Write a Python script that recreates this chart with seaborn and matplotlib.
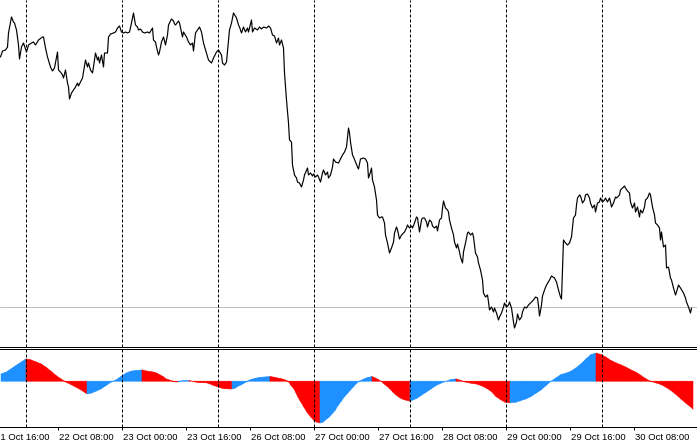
import numpy as np
import matplotlib
matplotlib.use("Agg")
import matplotlib.pyplot as plt
import matplotlib.transforms as mtransforms
import seaborn as sns

# ---------------- data (M15 bars, bar index from left edge) ----------------
price_bar = [0, 2, 5, 7, 8, 11, 13, 14, 16, 18, 19, 21, 23, 26, 28, 31, 33, 35, 38, 42, 43, 45, 47, 50, 52, 54, 56, 57, 58, 60,
             62, 63, 65, 67, 68, 69, 71, 73, 75, 77, 78, 80, 82, 83, 85, 87, 88, 90, 92, 93, 95, 97, 98, 99, 101, 103, 104, 107, 108, 110,
             113, 115, 117, 119, 121, 123, 125, 127, 129, 131, 133, 135, 137, 138, 140, 142, 144, 147, 149, 152, 153, 155, 156, 158, 159, 161, 163, 165, 167, 168,
             171, 173, 174, 175, 178, 179, 182, 183, 186, 188, 190, 192, 193, 195, 197, 199, 201, 203, 206, 208, 211, 213, 216, 218, 221, 222, 224, 226, 228, 229,
             231, 233, 236, 238, 239, 241, 243, 245, 247, 248, 251, 252, 254, 257, 259, 261, 263, 266, 268, 270, 272, 274, 276, 278, 279, 281, 283, 284, 286, 288,
             289, 291, 292, 294, 296, 297, 299, 301, 303, 304, 307, 308, 310, 312, 313, 315, 317, 318, 320, 322, 323, 325, 327, 328, 330, 332, 333, 335, 338, 340,
             342, 344, 346, 348, 349, 350, 352, 353, 355, 357, 358, 360, 363, 365, 367, 368, 370, 371, 372, 374, 376, 377, 379, 381, 382, 384, 385, 387, 388, 389,
             391, 393, 394, 396, 397, 399, 401, 403, 404, 406, 407, 409, 411, 412, 414, 416, 417, 419, 421, 422, 424, 426, 427, 429, 431, 432, 434, 436, 437, 439,
             441, 442, 443, 445, 447, 448, 449, 451, 453, 454, 456, 457, 459, 460, 462, 463, 465, 467, 468, 470, 472, 473, 475, 477, 478, 480, 482, 483, 485, 487,
             488, 489, 491, 493, 494, 496, 498, 499, 501, 503, 504, 506, 508, 509, 511, 513, 514, 516, 517, 519, 521, 522, 524, 526, 528, 530, 533, 535, 537, 538,
             539, 541, 542, 544, 546, 549, 551, 554, 556, 558, 560, 561, 563, 565, 567, 569, 571, 573, 575, 576, 577, 579, 580, 582, 584, 585, 587, 589, 590, 592,
             594, 595, 597, 599, 600, 602, 604, 605, 607, 609, 610, 611, 613, 615, 616, 619, 620, 622, 624, 625, 627, 629, 630, 632, 634, 635, 637, 639, 640, 642,
             644, 645, 647, 649, 650, 652, 654, 655, 657, 659, 660, 661, 663, 665, 666, 668, 670, 671, 673, 675, 676, 678, 680, 683, 685, 686, 688, 690, 691]

price_pts = [289, 295, 296, 299, 313, 329, 324, 323, 316, 301, 287, 299, 303, 294, 301, 303, 304, 301, 306, 309, 309, 298, 289, 279, 275, 278, 289, 294, 276, 274,
             271, 268, 276, 263, 259, 247, 253, 256, 259, 263, 260, 264, 268, 274, 286, 279, 283, 276, 273, 279, 293, 286, 289, 283, 291, 279, 293, 293, 309, 312,
             313, 314, 318, 320, 314, 313, 314, 313, 314, 323, 333, 321, 319, 316, 317, 314, 313, 314, 313, 318, 306, 304, 299, 291, 294, 304, 309, 301, 311, 321,
             327, 325, 322, 321, 325, 323, 309, 314, 309, 304, 301, 303, 295, 313, 316, 319, 314, 303, 293, 286, 283, 288, 294, 296, 291, 283, 281, 284, 306, 316,
             323, 333, 328, 321, 319, 313, 319, 314, 318, 314, 326, 314, 318, 316, 319, 317, 319, 318, 320, 318, 311, 310, 303, 308, 301, 306, 298, 273, 246, 223,
             206, 204, 181, 171, 168, 164, 163, 159, 166, 171, 178, 171, 173, 170, 172, 169, 171, 169, 164, 173, 176, 171, 174, 168, 171, 179, 187, 184, 183, 187,
             191, 194, 199, 218, 213, 204, 191, 189, 184, 179, 177, 187, 188, 187, 183, 168, 174, 178, 166, 159, 146, 131, 128, 129, 129, 123, 111, 103, 98, 93,
             98, 104, 113, 119, 116, 107, 111, 113, 114, 118, 121, 118, 120, 118, 123, 129, 128, 114, 126, 128, 128, 124, 119, 126, 124, 120, 118, 120, 115, 126,
             128, 138, 145, 138, 136, 134, 126, 118, 111, 104, 98, 102, 94, 89, 83, 94, 103, 113, 114, 111, 113, 109, 93, 89, 83, 76, 66, 53, 49, 51,
             44, 36, 39, 34, 38, 33, 26, 29, 33, 39, 43, 39, 41, 44, 38, 24, 18, 24, 32, 26, 29, 34, 39, 38, 41, 43, 46, 49, 48, 40,
             30, 41, 50, 56, 61, 66, 70, 68, 64, 56, 49, 47, 106, 103, 101, 103, 109, 128, 131, 141, 148, 151, 150, 143, 146, 151, 152, 148, 143, 138,
             141, 134, 143, 144, 148, 144, 146, 148, 144, 148, 144, 139, 143, 149, 148, 151, 156, 158, 160, 158, 155, 153, 144, 138, 143, 134, 139, 129, 136, 133,
             139, 146, 148, 153, 151, 139, 131, 123, 121, 118, 106, 114, 99, 101, 78, 79, 68, 66, 58, 51, 54, 61, 58, 53, 48, 44, 39, 33, 38]

bid_level = 39.5

osc_bar = [0, 5, 10, 15, 20, 25, 30, 35, 40, 45, 50, 55, 60, 65, 70, 75, 80, 86, 90, 95,
           100, 105, 110, 115, 120, 125, 130, 135, 141, 145, 150, 153, 156, 159, 162, 165, 168, 171, 174, 177,
           180, 184, 188, 191, 194, 197, 200, 203, 206, 209, 212, 215, 218, 221, 224, 228, 231, 234, 237, 240,
           243, 246, 249, 252, 255, 258, 261, 265, 269, 273, 276, 279, 282, 285, 288, 290, 293, 297, 300, 303,
           306, 310, 313, 316, 319, 322, 325, 328, 331, 334, 337, 340, 343, 346, 349, 352, 355, 358, 361, 364,
           367, 371, 374, 377, 380, 383, 386, 389, 392, 395, 398, 401, 404, 409, 412, 416, 420, 425, 430, 435,
           440, 445, 450, 455, 460, 465, 470, 475, 480, 485, 490, 495, 500, 504, 509, 515, 520, 525, 530, 535,
           540, 545, 550, 555, 560, 565, 570, 575, 580, 585, 590, 595, 600, 605, 610, 615, 620, 625, 630, 635,
           640, 645, 650, 655, 660, 665, 670, 675, 680, 685, 690, 692]

osc_val = [7.3, 9, 12.3, 15.7, 19, 22.3, 21.3, 19.3, 17.3, 14, 10, 5.7, 2.3, -1, -3.3, -6, -8.7, -12.7, -12, -10,
           -7.7, -4.3, -1, 1.3, 4.7, 8, 10, 10.7, 11.3, 10.3, 9.5, 9, 8, 6.3, 4.7, 2.3, 1.3, 0.3, -0.7, -0.8,
           0.3, 0.7, 0.8, 0, -0.7, -1.3, -1.4, -1.5, -1.7, -2.7, -4, -5, -6, -7, -7.5, -7.7, -7.8, -7, -5, -3.7,
           -2, -0.3, 1.3, 2.3, 3, 3.7, 4, 4.3, 4.7, 4, 3.3, 2.7, 2, 1, -1, -4.3, -7.7, -16, -21, -26,
           -31, -36, -39.3, -41, -41.8, -41, -38.3, -36, -32.7, -29.3, -24.3, -20.3, -16, -12.7, -9.3, -6, -2.7, -0.3, 1.3, 2.7,
           3.7, 4.7, 3.3, 1.7, 0, -2.7, -5, -7.7, -11, -13.7, -16, -17.7, -18.7, -20, -18.7, -17, -14.3, -11, -7.7, -4.3,
           -2, 0, 1.7, 2.3, 0.7, -1, -2, -2.7, -4.3, -6.7, -10, -15.3, -18.7, -21, -21.7, -21, -19.3, -17.7, -15.3, -12,
           -8.7, -4.3, 0, 3.3, 6.7, 8, 10, 13.3, 17.3, 22.3, 26.7, 28, 26.7, 24, 20.7, 18.3, 16.3, 14, 11.3, 9,
           5.7, 2.3, -0.3, -1.7, -3.3, -6, -9.3, -13.3, -17.7, -22, -26, -28]

days = ["21 Oct", "22 Oct", "23 Oct", "26 Oct", "27 Oct", "28 Oct", "29 Oct", "30 Oct"]
tick_labels = ["21 Oct 16:00", "22 Oct 08:00", "23 Oct 00:00", "23 Oct 16:00", "26 Oct 08:00",
               "27 Oct 00:00", "27 Oct 16:00", "28 Oct 08:00", "29 Oct 00:00", "29 Oct 16:00",
               "30 Oct 08:00"]

FIRST_MIDNIGHT_BAR = 25   # bar index of 22 Oct 00:00
BARS_PER_HOUR = 4         # M15


def bar_of(label):
    day = label[:6]
    hh = int(label[7:9])
    return FIRST_MIDNIGHT_BAR + (days.index(day) - 1) * 24 * BARS_PER_HOUR + hh * BARS_PER_HOUR


tick_pos = [bar_of(t) for t in tick_labels]
sep_pos = [bar_of(d + " 00:00") for d in days[1:]]

# ---------------- figure ----------------
sns.set_style("white")
plt.rcParams['font.family'] = ['Liberation Sans', 'DejaVu Sans']

W, H = 697, 444
fig = plt.figure(figsize=(W / 100, H / 100), dpi=100)
fig.patch.set_facecolor("white")

up_bottom_px = 346.5
lo_top_px = 348.5
lo_bottom_px = 426.5

ax1 = fig.add_axes([0, (H - up_bottom_px) / H, 1, up_bottom_px / H])
ax2 = fig.add_axes([0, (H - lo_bottom_px) / H, 1, (lo_bottom_px - lo_top_px) / H])

xlim = (-0.5, W - 0.5)
px = 0.72  # one pixel in points

# --- price panel
ax1.axhline(bid_level, color="#c0c0c0", lw=px)
sns.lineplot(x=price_bar, y=price_pts, ax=ax1, color="black", linewidth=0.85,
             estimator=None, sort=False)
ax1.set_xlim(*xlim)
ax1.set_ylim(-0.5, 346)
for s in ["top", "left", "right"]:
    ax1.spines[s].set_visible(False)
ax1.spines["bottom"].set_color("black")
ax1.spines["bottom"].set_linewidth(px)
ax1.set_xticks([])
ax1.set_yticks([])
ax1.set_xlabel("")
ax1.set_ylabel("")

# --- oscillator panel
ob = np.array(osc_bar, dtype=float)
ov = np.array(osc_val, dtype=float)
for i in range(len(ob) - 1):
    col = "#1E90FF" if ov[i + 1] > ov[i] else "#FF0000"
    if ov[i + 1] == ov[i]:
        col = "#1E90FF" if i > 0 and ov[i] > ov[i - 1] else "#FF0000"
    ax2.fill_between(ob[i:i + 2], ov[i:i + 2], 0, color=col, linewidth=0.4,
                     edgecolor=col)
ax2.set_xlim(*xlim)
ax2.set_ylim(-45.8, 32.2)
for s in ["left", "right"]:
    ax2.spines[s].set_visible(False)
for s in ["top", "bottom"]:
    ax2.spines[s].set_color("black")
    ax2.spines[s].set_linewidth(px)
ax2.set_yticks([])
ax2.set_xticks([t for t in tick_pos if xlim[0] <= t <= xlim[1]])
ax2.set_xticklabels([])
ax2.tick_params(axis="x", direction="out", length=3 * px, width=px, color="black", bottom=True)

# tick labels (left aligned at tick, like the terminal)
trans = mtransforms.blended_transform_factory(ax2.transData, ax2.transAxes)
trans = mtransforms.offset_copy(trans, fig=fig, x=1.2 * px, y=-13.2 * px, units="points")
for pos, lab in zip(tick_pos, tick_labels):
    ax2.text(pos, 0, lab, transform=trans, ha="left", va="baseline",
             fontsize=6.8, color="black", clip_on=False)

# day separators
for ax in (ax1, ax2):
    for p in sep_pos:
        ax.axvline(p, color="black", lw=px, linestyle=(0, (3, 2)))

fig.savefig("out.png", dpi=100, facecolor="white")
